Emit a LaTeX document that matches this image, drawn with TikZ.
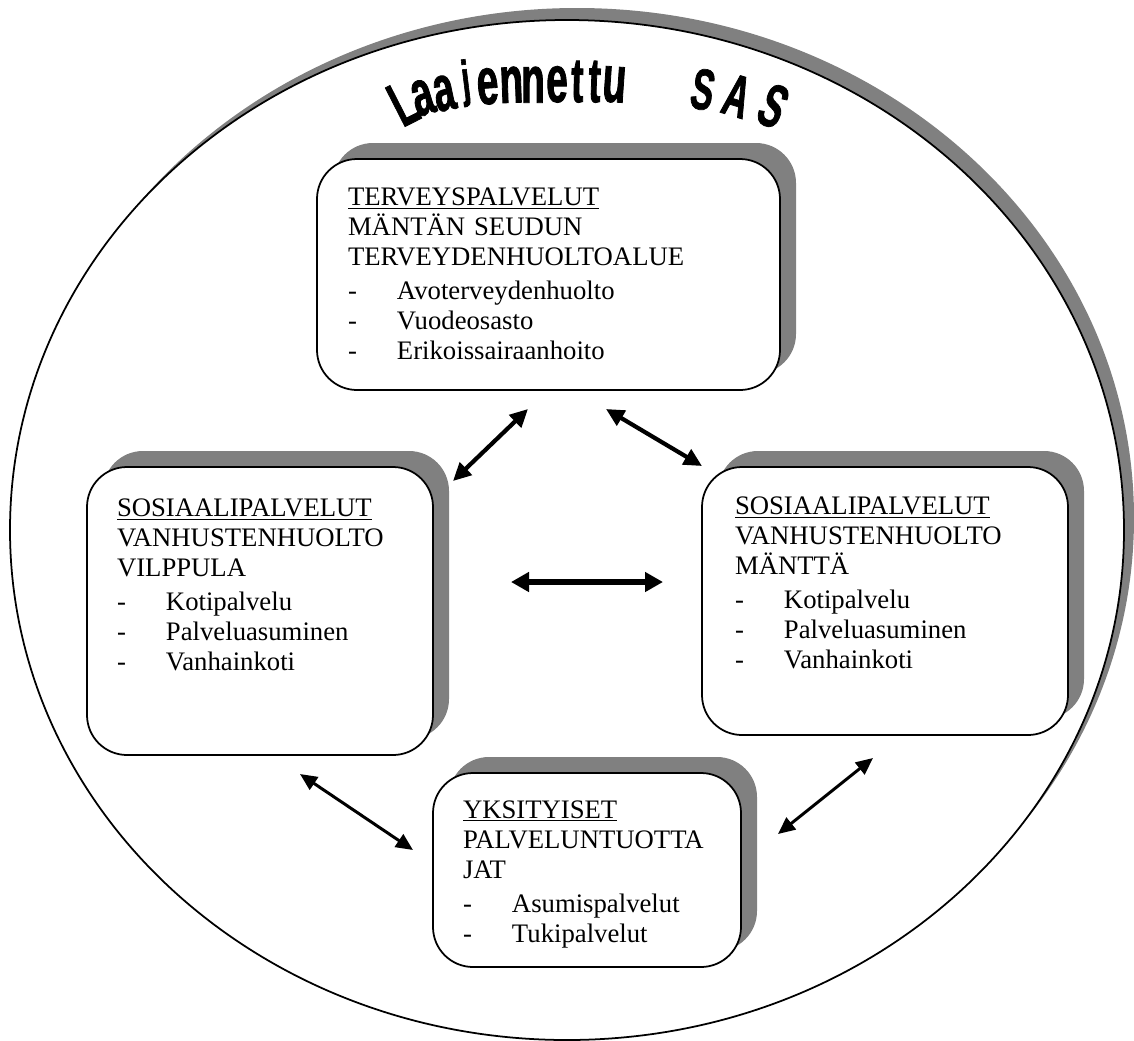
\documentclass[tikz,border=0pt]{standalone}
\usepackage{fontspec}
\setmainfont{Liberation Serif}
\newfontfamily\kaarifont[FakeStretch=0.58, FakeBold=1.2]{Liberation Sans}
\usepackage{xcolor}
\usepackage{tikz}
\usetikzlibrary{arrows.meta, positioning, shadows, calc}

\definecolor{varjo}{RGB}{128,128,128}
\hyphenpenalty=10000
\newcommand{\kohta}[1]{\makebox[0.98cm][l]{-}#1}

\tikzset{
    laatikko/.style={rectangle, draw=black, line width=1pt, fill=white,
        rounded corners=0.8cm, align=left, anchor=north west,
        inner ysep=0pt, outer sep=0pt,
        font=\fontsize{15.2}{17.2}\selectfont,
        drop shadow={shadow xshift=0.32cm, shadow yshift=0.32cm, fill=varjo, opacity=1}},
    kirjain/.style={anchor=south, inner sep=0pt, font=\kaarifont\bfseries\fontsize{#1}{#1}\selectfont},
    pari/.style={{Triangle[length=0.36cm,width=0.34cm]}-{Triangle[length=0.36cm,width=0.34cm]}, line width=2.4pt},
    leveapari/.style={{Triangle[length=0.36cm,width=0.38cm]}-{Triangle[length=0.36cm,width=0.38cm]}, line width=2.9pt},
    ohutpari/.style={{Triangle[length=0.34cm,width=0.30cm]}-{Triangle[length=0.34cm,width=0.30cm]}, line width=1.7pt}
}

\begin{document}
\begin{tikzpicture}
    \useasboundingbox[fill=white] (0,0) rectangle (22.68,-20.8);

    % Laajennettu SAS -kehys
    \draw[line width=1pt, fill=white,
        drop shadow={shadow xshift=0.2cm, shadow yshift=0.24cm, fill=varjo, opacity=1}]
        (11.34,-10.6) ellipse [x radius=11.14cm, y radius=10.2cm];

    % otsikko kaarella
    \foreach \x/\y/\w/\s/\b [count=\i] in {8.26/-2.46/27/36/L, 8.56/-2.30/17/37/a, 8.96/-2.22/12/37/a,
        9.38/-2.14/7/29/j, 9.78/-2.10/4/38/e, 10.24/-2.06/2/38/n, 10.66/-2.06/0/38/n, 11.14/-2.06/0/38/e,
        11.54/-2.06/-1/36/t, 11.88/-2.06/-2/36/t, 12.26/-2.06/-4/38/u,
        13.98/-2.20/-11/33/S, 14.62/-2.32/-17/34/A, 15.28/-2.52/-25/35/S}
        \node[kirjain=\s, rotate=\w] (otsikko\i) at (\x,\y) {\b};

    % Terveyspalvelut
    \node[laatikko, inner xsep=0.62cm, text width=8.02cm, text height=0.92cm, text depth=3.70cm]
        (terveys) at (6.34,-3.18) {
        \underline{TERVEYSPALVELUT}\\
        MÄNTÄN SEUDUN\\
        TERVEYDENHUOLTOALUE\\[2pt]
        \kohta{Avoterveydenhuolto}\\
        \kohta{Vuodeosasto}\\
        \kohta{Erikoissairaanhoito}
    };

    % Sosiaalipalvelut Vilppula
    \node[laatikko, inner xsep=0.60cm, text width=5.72cm, text height=0.98cm, text depth=4.78cm]
        (vilppula) at (1.74,-9.34) {
        \underline{SOSIAALIPALVELUT}\\
        VANHUSTENHUOLTO\\
        VILPPULA\\[2pt]
        \kohta{Kotipalvelu}\\
        \kohta{Palveluasuminen}\\
        \kohta{Vanhainkoti}
    };

    % Sosiaalipalvelut Mänttä
    \node[laatikko, inner xsep=0.66cm, text width=6.00cm, text height=0.94cm, text depth=4.42cm]
        (mantta) at (14.04,-9.34) {
        \underline{SOSIAALIPALVELUT}\\
        VANHUSTENHUOLTO\\
        MÄNTTÄ\\[2pt]
        \kohta{Kotipalvelu}\\
        \kohta{Palveluasuminen}\\
        \kohta{Vanhainkoti}
    };

    % Yksityiset palveluntuottajat
    \node[laatikko, inner xsep=0.60cm, text width=4.96cm, text height=0.90cm, text depth=2.98cm]
        (yksityiset) at (8.66,-15.46) {
        \underline{YKSITYISET}\\
        PALVELUNTUOTTA\\
        JAT\\[2pt]
        \kohta{Asumispalvelut}\\
        \kohta{Tukipalvelut}
    };

    % nuolten päät
    \coordinate (tv1) at (10.56,-8.18);
    \coordinate (tv2) at (9.06,-9.62);
    \coordinate (tm1) at (12.12,-8.18);
    \coordinate (tm2) at (14.04,-9.32);
    \coordinate (vm1) at (10.22,-11.64);
    \coordinate (vm2) at (13.26,-11.64);
    \coordinate (vy1) at (6.00,-15.48);
    \coordinate (vy2) at (8.26,-17.00);
    \coordinate (my1) at (17.46,-15.16);
    \coordinate (my2) at (15.56,-16.68);

    \draw[pari] (tv1) -- (tv2);
    \draw[pari] (tm1) -- (tm2);
    \draw[leveapari] (vm1) -- (vm2);
    \draw[ohutpari] (vy1) -- (vy2);
    \draw[ohutpari] (my1) -- (my2);
\end{tikzpicture}
\end{document}
